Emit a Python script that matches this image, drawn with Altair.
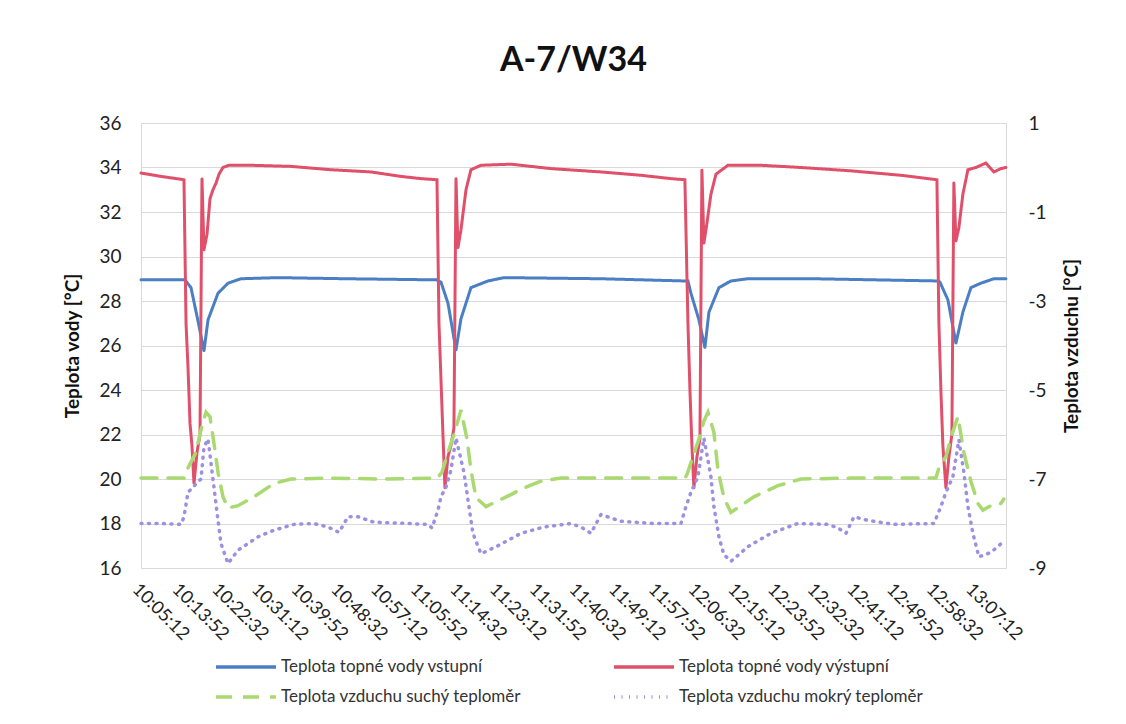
import altair as alt
import pandas as pd

DAY = "2020-01-01T"

tick_labels = ["10:05:12", "10:13:52", "10:22:32", "10:31:12", "10:39:52", "10:48:32",
               "10:57:12", "11:05:52", "11:14:32", "11:23:12", "11:31:52", "11:40:32",
               "11:49:12", "11:57:52", "12:06:32", "12:15:12", "12:23:52", "12:32:32",
               "12:41:12", "12:49:52", "12:58:32", "13:07:12"]
x_start = "10:05:12"
x_end = "13:14:05"

series_names = ["Teplota topné vody vstupní", "Teplota topné vody výstupní",
                "Teplota vzduchu suchý teploměr", "Teplota vzduchu mokrý teploměr"]

# Teplota topné vody vstupní (left axis)
inlet_times = ["10:05:12", "10:14:48", "10:16:07", "10:17:39", "10:18:57", "10:19:50", "10:22:01",
               "10:24:12", "10:27:02", "10:35:00", "10:50:00", "11:09:50",
               "11:10:03", "11:10:42", "11:12:14", "11:13:59", "11:15:04", "11:17:15", "11:20:58",
               "11:24:27", "11:45:38", "12:03:58",
               "12:04:38", "12:05:17", "12:07:02", "12:08:20", "12:09:13", "12:11:24", "12:14:01",
               "12:17:44", "12:32:08", "12:59:13",
               "12:59:39", "13:01:24", "13:03:09", "13:04:40", "13:06:25", "13:08:36", "13:11:26",
               "13:14:04"]
inlet_values = [28.95, 28.95, 28.6, 27.1, 25.75, 27.15, 28.35,
                28.8, 29.0, 29.05, 29.0, 28.95,
                28.9, 28.85, 27.9, 25.8, 27.2, 28.6, 28.9,
                29.05, 29.0, 28.9,
                28.9, 28.35, 27.15, 25.9, 27.5, 28.6, 28.9,
                29.0, 29.0, 28.9,
                28.85, 28.05, 26.1, 27.5, 28.6, 28.8, 29.0,
                29.0]

# Teplota topné vody výstupní (left axis)
outlet_times = ["10:05:12", "10:09:34", "10:14:35", "10:15:02", "10:15:28", "10:15:54", "10:16:20",
                "10:16:46", "10:17:26", "10:18:05", "10:18:31", "10:18:57", "10:19:37", "10:20:16",
                "10:20:55", "10:21:35", "10:22:14", "10:23:06", "10:24:25", "10:29:13", "10:37:57",
                "10:46:41", "10:55:25", "11:01:58", "11:06:20", "11:09:50",
                "11:10:16", "11:10:42", "11:11:08", "11:11:34", "11:12:14", "11:12:53", "11:13:32",
                "11:13:59", "11:14:25", "11:15:04", "11:16:10", "11:17:15", "11:19:26", "11:25:59",
                "11:34:43", "11:45:38", "11:54:22", "12:00:55", "12:03:58",
                "12:04:38", "12:05:04", "12:05:30", "12:05:56", "12:06:36", "12:07:15", "12:07:41",
                "12:08:07", "12:08:47", "12:09:39", "12:10:45", "12:13:22", "12:20:34", "12:29:18",
                "12:40:13", "12:51:08", "12:59:00",
                "12:59:26", "12:59:52", "13:00:18", "13:00:58", "13:01:37", "13:02:16", "13:02:42",
                "13:03:09", "13:03:48", "13:04:40", "13:05:46", "13:07:31", "13:09:42", "13:10:34",
                "13:11:27", "13:12:58", "13:14:04"]
outlet_values = [33.75, 33.6, 33.45, 27.0, 25.0, 22.5, 21.5,
                 19.8, 21.2, 22.0, 33.5, 30.3, 31.0, 32.6,
                 33.0, 33.3, 33.7, 34.0, 34.1, 34.1, 34.05,
                 33.9, 33.8, 33.6, 33.5, 33.45,
                 27.0, 24.5, 22.0, 19.6, 21.0, 21.5, 22.3,
                 33.5, 30.4, 31.2, 33.0, 33.9, 34.1, 34.15,
                 33.95, 33.8, 33.65, 33.5, 33.45,
                 27.0, 24.0, 21.5, 19.6, 21.0, 21.8, 33.9,
                 30.6, 31.5, 32.8, 33.7, 34.1, 34.1, 34.0,
                 33.85, 33.65, 33.45,
                 27.0, 24.0, 21.5, 19.6, 21.0, 22.0, 33.3,
                 30.7, 31.3, 32.8, 33.9, 34.0, 34.2, 34.0,
                 33.8, 33.95, 34.0]

# Teplota vzduchu suchý teploměr (right axis)
dry_times = ["10:05:12", "10:14:35", "10:15:28", "10:17:12", "10:18:31", "10:19:24", "10:20:16",
             "10:21:08", "10:22:01", "10:23:06", "10:24:12", "10:26:23", "10:29:52", "10:34:14",
             "10:37:57", "10:46:41", "10:57:36", "11:09:50",
             "11:10:55", "11:12:14", "11:13:32", "11:15:04", "11:16:23", "11:17:15", "11:18:21",
             "11:20:32", "11:25:59", "11:28:49", "11:32:32", "11:36:54", "11:50:00", "12:03:58",
             "12:04:25", "12:05:43", "12:07:02", "12:08:07", "12:09:00", "12:10:18", "12:11:11",
             "12:12:29", "12:14:01", "12:19:02", "12:24:17", "12:29:18", "12:40:13", "12:58:47",
             "12:59:26", "13:00:58", "13:02:16", "13:03:35", "13:04:53", "13:06:25", "13:07:57",
             "13:09:02", "13:10:47", "13:12:58", "13:13:37"]
dry_values = [-6.98, -6.98, -6.75, -6.4, -5.8, -5.5, -5.6,
              -6.2, -6.85, -7.4, -7.65, -7.6, -7.4, -7.1,
              -7.0, -6.98, -7.0, -6.98,
              -6.85, -6.4, -6.0, -5.45, -6.1, -6.8, -7.42,
              -7.62, -7.35, -7.2, -7.05, -6.98, -6.98, -6.98,
              -6.9, -6.5, -6.1, -5.7, -5.5, -5.95, -6.8,
              -7.42, -7.75, -7.4, -7.15, -7.0, -6.98, -6.98,
              -6.75, -6.5, -6.0, -5.6, -6.4, -7.05, -7.55,
              -7.7, -7.6, -7.55, -7.45]

# Teplota vzduchu mokrý teploměr (right axis)
wet_times = ["10:05:12", "10:09:34", "10:13:56", "10:14:35", "10:15:28", "10:16:33", "10:18:18",
             "10:18:57", "10:19:50", "10:20:55", "10:22:01", "10:22:40", "10:24:12", "10:26:23",
             "10:30:45", "10:34:14", "10:38:36", "10:42:58", "10:46:02", "10:48:26", "10:50:24",
             "10:52:35", "10:56:04", "11:03:30", "11:07:52", "11:08:44",
             "11:10:03", "11:10:42", "11:11:48", "11:12:53", "11:13:59", "11:15:43", "11:16:49",
             "11:17:41", "11:19:26", "11:23:09", "11:28:10", "11:33:11", "11:39:05", "11:41:16",
             "11:43:27", "11:45:38", "11:50:00", "11:57:12", "12:03:06",
             "12:04:12", "12:05:17", "12:06:49", "12:08:07", "12:09:39", "12:10:18", "12:11:24",
             "12:12:29", "12:14:01", "12:17:44", "12:22:45", "12:28:39", "12:35:12", "12:37:23",
             "12:39:08", "12:40:52", "12:43:56", "12:49:36", "12:58:20",
             "12:59:52", "13:00:58", "13:02:29", "13:03:48", "13:04:53", "13:05:46", "13:06:51",
             "13:08:10", "13:10:47", "13:13:50"]
wet_values = [-8.0, -8.0, -8.02, -7.85, -7.3, -7.18, -7.0,
              -6.28, -6.1, -7.0, -7.93, -8.45, -8.9, -8.6,
              -8.3, -8.15, -8.02, -8.0, -8.08, -8.2, -7.85,
              -7.85, -7.97, -8.0, -8.02, -8.1,
              -7.7, -7.4, -7.18, -6.8, -6.08, -6.85, -7.62,
              -8.22, -8.68, -8.5, -8.22, -8.08, -8.0, -8.08,
              -8.22, -7.8, -7.95, -8.0, -8.0,
              -7.62, -7.3, -6.95, -6.08, -6.95, -7.62, -8.3,
              -8.7, -8.85, -8.52, -8.22, -8.0, -8.02, -8.1,
              -8.22, -7.85, -7.93, -8.02, -8.0,
              -7.62, -7.3, -6.95, -6.12, -6.85, -7.62, -8.22,
              -8.75, -8.65, -8.38]

colors = ["#4A7FC3", "#E0506A", "#A9D970", "#9C90E0"]
dashes = [[1, 0], [1, 0], [16, 11], [1, 6.5]]

FONT = "Lato"


def frame(times, values, name):
    return pd.DataFrame({"time": [DAY + t for t in times], "value": values, "series": name})


def dt(t):
    h, m, s = (int(p) for p in t.split(":"))
    return alt.DateTime(year=2020, month=1, date=1, hours=h, minutes=m, seconds=s)


water = pd.concat([frame(inlet_times, inlet_values, series_names[0]),
                   frame(outlet_times, outlet_values, series_names[1])])
air = pd.concat([frame(dry_times, dry_values, series_names[2]),
                 frame(wet_times, wet_values, series_names[3])])

legend = alt.Legend(title=None, orient="none", legendX=88, legendY=527, columns=2,
                    direction="horizontal",
                    symbolType="M-2,0H2", symbolSize=900, symbolStrokeWidth=3.5,
                    symbolFillColor="transparent",
                    labelFont=FONT, labelFontSize=17, labelColor="#333333", labelLimit=500,
                    columnPadding=85, rowPadding=5, symbolOffset=0, labelOffset=18)

color = alt.Color("series:N", scale=alt.Scale(domain=series_names, range=colors), legend=legend)
dash = alt.StrokeDash("series:N", scale=alt.Scale(domain=series_names, range=dashes), legend=legend)

x = alt.X("time:T",
          scale=alt.Scale(domain=[dt(x_start), dt(x_end)]),
          axis=alt.Axis(values=[dt(t) for t in tick_labels], format="%H:%M:%S",
                        labelAngle=45, labelAlign="left", labelBaseline="top",
                        labelFontSize=18, labelPadding=12, grid=False, ticks=False,
                        domain=False, title=None, labelOverlap=False, labelBound=False,
                        labelFlush=False))

water_layer = alt.Chart(water).mark_line(strokeWidth=3, strokeCap="round").encode(
    x=x,
    y=alt.Y("value:Q", scale=alt.Scale(domain=[16, 36], nice=False),
            axis=alt.Axis(values=list(range(16, 37, 2)), title="Teplota vody [°C]",
                          labelPadding=20, titlePadding=16, grid=True)),
    color=color,
    strokeDash=dash,
)

air_layer = alt.Chart(air).mark_line(strokeWidth=3.5, strokeCap="round").encode(
    x=x,
    y=alt.Y("value:Q", scale=alt.Scale(domain=[-9, 1], nice=False),
            axis=alt.Axis(orient="right", values=[-9, -7, -5, -3, -1, 1],
                          title="Teplota vzduchu [°C]", titleAngle=270, titleBaseline="top",
                          grid=False, labelPadding=22, titlePadding=16,
                          labelExpr="'' + datum.value")),
    color=color,
    strokeDash=dash,
)

chart = alt.layer(water_layer, air_layer).resolve_scale(y="independent").properties(
    width=865, height=445,
    padding={"left": 55, "top": 36, "right": 5, "bottom": 5},
    title=alt.Title("A-7/W34", fontSize=34, font=FONT, fontWeight="bold", color="#111111",
                    anchor="middle", offset=36),
).configure(background="white").configure_view(stroke="#d9d9d9", strokeWidth=1).configure_axis(
    labelFont=FONT, labelFontSize=19, labelColor="#222222",
    titleFont=FONT, titleFontSize=19, titleFontWeight="bold", titleColor="#111111",
    gridColor="#d9d9d9", gridWidth=1, domain=False, ticks=False,
)

chart.save("out.html", embed_options={"renderer": "svg", "actions": False})
